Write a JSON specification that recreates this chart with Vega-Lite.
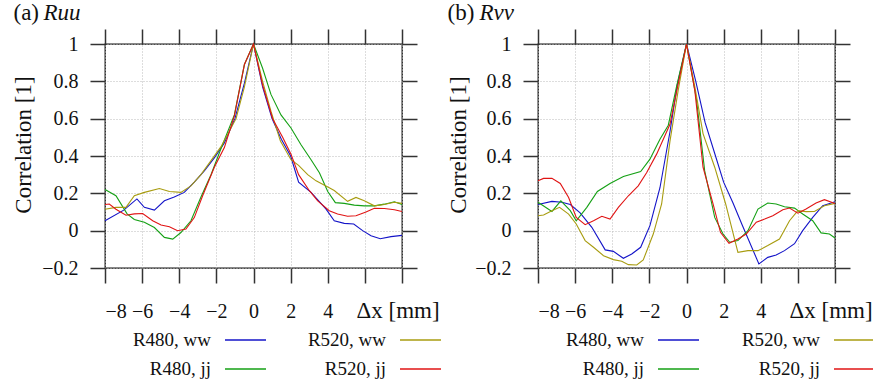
{
  "$schema": "https://vega.github.io/schema/vega-lite/v6.json",
  "padding": {"left": 11, "top": 0, "right": 0, "bottom": 0},
  "bounds": "flush",
  "columns": 2,
  "spacing": {"column": 136, "row": 72},
  "config": {
    "font": "Liberation Serif",
    "view": {"stroke": "#111", "strokeWidth": 1.3}
  },
  "datasets": {
    "legend": [
      {"s": "R480, ww", "inst": "R480", "cond": "ww"},
      {"s": "R520, ww", "inst": "R520", "cond": "ww"},
      {"s": "R480, jj", "inst": "R480", "cond": "jj"},
      {"s": "R520, jj", "inst": "R520", "cond": "jj"}
    ],
    "ruu": [
      {"s":"R480, ww","x":-8,"r":0.053},{"s":"R480, ww","x":-6.99,"r":0.11},{"s":"R480, ww","x":-6.28,"r":0.17},{"s":"R480, ww","x":-5.88,"r":0.125},{"s":"R480, ww","x":-5.34,"r":0.11},{"s":"R480, ww","x":-4.8,"r":0.16},{"s":"R480, ww","x":-4.27,"r":0.18},{"s":"R480, ww","x":-3.73,"r":0.205},{"s":"R480, ww","x":-3.19,"r":0.26},{"s":"R480, ww","x":-2.65,"r":0.32},{"s":"R480, ww","x":-2.11,"r":0.39},{"s":"R480, ww","x":-1.57,"r":0.47},{"s":"R480, ww","x":-1.0,"r":0.6},{"s":"R480, ww","x":-0.49,"r":0.79},{"s":"R480, ww","x":0,"r":1.0},{"s":"R480, ww","x":0.49,"r":0.77},{"s":"R480, ww","x":1.0,"r":0.6},{"s":"R480, ww","x":1.5,"r":0.49},{"s":"R480, ww","x":2.0,"r":0.4},{"s":"R480, ww","x":2.43,"r":0.26},{"s":"R480, ww","x":3.1,"r":0.205},{"s":"R480, ww","x":3.91,"r":0.115},{"s":"R480, ww","x":4.35,"r":0.053},{"s":"R480, ww","x":4.89,"r":0.039},{"s":"R480, ww","x":5.4,"r":0.036},{"s":"R480, ww","x":5.88,"r":0.0},{"s":"R480, ww","x":6.33,"r":-0.027},{"s":"R480, ww","x":6.83,"r":-0.043},{"s":"R480, ww","x":7.41,"r":-0.032},{"s":"R480, ww","x":8,"r":-0.025},
      {"s":"R480, jj","x":-8,"r":0.22},{"s":"R480, jj","x":-7.41,"r":0.187},{"s":"R480, jj","x":-6.81,"r":0.09},{"s":"R480, jj","x":-6.42,"r":0.06},{"s":"R480, jj","x":-5.88,"r":0.045},{"s":"R480, jj","x":-5.34,"r":0.017},{"s":"R480, jj","x":-4.8,"r":-0.036},{"s":"R480, jj","x":-4.35,"r":-0.045},{"s":"R480, jj","x":-3.91,"r":-0.01},{"s":"R480, jj","x":-3.37,"r":0.053},{"s":"R480, jj","x":-2.83,"r":0.18},{"s":"R480, jj","x":-2.29,"r":0.3},{"s":"R480, jj","x":-1.75,"r":0.44},{"s":"R480, jj","x":-1.03,"r":0.62},{"s":"R480, jj","x":-0.49,"r":0.89},{"s":"R480, jj","x":0,"r":1.0},{"s":"R480, jj","x":0.49,"r":0.87},{"s":"R480, jj","x":0.94,"r":0.73},{"s":"R480, jj","x":1.48,"r":0.62},{"s":"R480, jj","x":2.02,"r":0.55},{"s":"R480, jj","x":2.56,"r":0.46},{"s":"R480, jj","x":3.1,"r":0.38},{"s":"R480, jj","x":3.55,"r":0.31},{"s":"R480, jj","x":4.0,"r":0.21},{"s":"R480, jj","x":4.41,"r":0.15},{"s":"R480, jj","x":4.89,"r":0.146},{"s":"R480, jj","x":5.43,"r":0.137},{"s":"R480, jj","x":5.97,"r":0.133},{"s":"R480, jj","x":6.51,"r":0.133},{"s":"R480, jj","x":7.05,"r":0.142},{"s":"R480, jj","x":7.59,"r":0.155},{"s":"R480, jj","x":8,"r":0.14},
      {"s":"R520, ww","x":-8,"r":0.115},{"s":"R520, ww","x":-7.41,"r":0.125},{"s":"R520, ww","x":-6.87,"r":0.125},{"s":"R520, ww","x":-6.42,"r":0.187},{"s":"R520, ww","x":-5.88,"r":0.205},{"s":"R520, ww","x":-5.07,"r":0.226},{"s":"R520, ww","x":-4.53,"r":0.21},{"s":"R520, ww","x":-3.91,"r":0.205},{"s":"R520, ww","x":-3.37,"r":0.24},{"s":"R520, ww","x":-2.83,"r":0.3},{"s":"R520, ww","x":-2.29,"r":0.375},{"s":"R520, ww","x":-1.75,"r":0.45},{"s":"R520, ww","x":-0.94,"r":0.6},{"s":"R520, ww","x":-0.49,"r":0.77},{"s":"R520, ww","x":0,"r":1.0},{"s":"R520, ww","x":0.49,"r":0.8},{"s":"R520, ww","x":0.94,"r":0.64},{"s":"R520, ww","x":1.45,"r":0.48},{"s":"R520, ww","x":2.02,"r":0.38},{"s":"R520, ww","x":2.43,"r":0.35},{"s":"R520, ww","x":2.92,"r":0.3},{"s":"R520, ww","x":3.37,"r":0.267},{"s":"R520, ww","x":4.08,"r":0.23},{"s":"R520, ww","x":4.35,"r":0.215},{"s":"R520, ww","x":5.07,"r":0.157},{"s":"R520, ww","x":5.52,"r":0.178},{"s":"R520, ww","x":5.97,"r":0.16},{"s":"R520, ww","x":6.51,"r":0.133},{"s":"R520, ww","x":7.05,"r":0.14},{"s":"R520, ww","x":7.59,"r":0.152},{"s":"R520, ww","x":8,"r":0.146},
      {"s":"R520, jj","x":-8,"r":0.14},{"s":"R520, jj","x":-7.77,"r":0.143},{"s":"R520, jj","x":-7.41,"r":0.115},{"s":"R520, jj","x":-6.87,"r":0.083},{"s":"R520, jj","x":-6.42,"r":0.09},{"s":"R520, jj","x":-5.97,"r":0.092},{"s":"R520, jj","x":-5.43,"r":0.053},{"s":"R520, jj","x":-4.98,"r":0.03},{"s":"R520, jj","x":-4.53,"r":0.021},{"s":"R520, jj","x":-4.09,"r":0.0},{"s":"R520, jj","x":-3.64,"r":0.009},{"s":"R520, jj","x":-3.19,"r":0.07},{"s":"R520, jj","x":-2.74,"r":0.187},{"s":"R520, jj","x":-2.11,"r":0.34},{"s":"R520, jj","x":-1.57,"r":0.445},{"s":"R520, jj","x":-1.03,"r":0.615},{"s":"R520, jj","x":-0.49,"r":0.89},{"s":"R520, jj","x":0,"r":1.0},{"s":"R520, jj","x":0.49,"r":0.78},{"s":"R520, jj","x":1.03,"r":0.6},{"s":"R520, jj","x":1.57,"r":0.5},{"s":"R520, jj","x":2.02,"r":0.41},{"s":"R520, jj","x":2.43,"r":0.3},{"s":"R520, jj","x":3.01,"r":0.214},{"s":"R520, jj","x":3.46,"r":0.16},{"s":"R520, jj","x":4.08,"r":0.107},{"s":"R520, jj","x":4.53,"r":0.089},{"s":"R520, jj","x":5.07,"r":0.077},{"s":"R520, jj","x":5.52,"r":0.08},{"s":"R520, jj","x":6.06,"r":0.1},{"s":"R520, jj","x":6.51,"r":0.12},{"s":"R520, jj","x":7.05,"r":0.119},{"s":"R520, jj","x":7.59,"r":0.112},{"s":"R520, jj","x":8,"r":0.103}
    ],
    "rvv": [
      {"s":"R480, ww","x":-8,"r":0.14},{"s":"R480, ww","x":-7.25,"r":0.157},{"s":"R480, ww","x":-6.71,"r":0.152},{"s":"R480, ww","x":-6.26,"r":0.14},{"s":"R480, ww","x":-5.73,"r":0.095},{"s":"R480, ww","x":-5.1,"r":0.018},{"s":"R480, ww","x":-4.38,"r":-0.103},{"s":"R480, ww","x":-3.94,"r":-0.111},{"s":"R480, ww","x":-3.4,"r":-0.148},{"s":"R480, ww","x":-2.95,"r":-0.125},{"s":"R480, ww","x":-2.47,"r":-0.089},{"s":"R480, ww","x":-1.97,"r":0.027},{"s":"R480, ww","x":-1.43,"r":0.23},{"s":"R480, ww","x":-0.89,"r":0.53},{"s":"R480, ww","x":-0.5,"r":0.78},{"s":"R480, ww","x":0,"r":1.0},{"s":"R480, ww","x":0.5,"r":0.8},{"s":"R480, ww","x":1.0,"r":0.58},{"s":"R480, ww","x":1.5,"r":0.42},{"s":"R480, ww","x":2.0,"r":0.26},{"s":"R480, ww","x":2.5,"r":0.15},{"s":"R480, ww","x":3.0,"r":0.03},{"s":"R480, ww","x":3.9,"r":-0.178},{"s":"R480, ww","x":4.38,"r":-0.143},{"s":"R480, ww","x":4.83,"r":-0.13},{"s":"R480, ww","x":5.28,"r":-0.107},{"s":"R480, ww","x":5.82,"r":-0.07},{"s":"R480, ww","x":6.26,"r":0.0},{"s":"R480, ww","x":6.8,"r":0.071},{"s":"R480, ww","x":7.34,"r":0.134},{"s":"R480, ww","x":8,"r":0.155},
      {"s":"R480, jj","x":-8,"r":0.152},{"s":"R480, jj","x":-7.25,"r":0.103},{"s":"R480, jj","x":-6.77,"r":0.16},{"s":"R480, jj","x":-6.26,"r":0.107},{"s":"R480, jj","x":-5.94,"r":0.053},{"s":"R480, jj","x":-5.37,"r":0.125},{"s":"R480, jj","x":-4.8,"r":0.21},{"s":"R480, jj","x":-4.12,"r":0.253},{"s":"R480, jj","x":-3.4,"r":0.29},{"s":"R480, jj","x":-2.47,"r":0.317},{"s":"R480, jj","x":-1.97,"r":0.383},{"s":"R480, jj","x":-1.43,"r":0.49},{"s":"R480, jj","x":-0.98,"r":0.565},{"s":"R480, jj","x":-0.54,"r":0.77},{"s":"R480, jj","x":0,"r":1.0},{"s":"R480, jj","x":0.54,"r":0.7},{"s":"R480, jj","x":0.98,"r":0.32},{"s":"R480, jj","x":1.52,"r":0.071},{"s":"R480, jj","x":1.97,"r":-0.018},{"s":"R480, jj","x":2.33,"r":-0.062},{"s":"R480, jj","x":2.77,"r":-0.053},{"s":"R480, jj","x":3.31,"r":0.0},{"s":"R480, jj","x":3.85,"r":0.116},{"s":"R480, jj","x":4.38,"r":0.148},{"s":"R480, jj","x":4.83,"r":0.143},{"s":"R480, jj","x":5.28,"r":0.128},{"s":"R480, jj","x":5.82,"r":0.121},{"s":"R480, jj","x":6.26,"r":0.089},{"s":"R480, jj","x":6.8,"r":0.053},{"s":"R480, jj","x":7.25,"r":-0.012},{"s":"R480, jj","x":7.7,"r":-0.018},{"s":"R480, jj","x":8,"r":-0.039},
      {"s":"R520, ww","x":-8,"r":0.08},{"s":"R520, ww","x":-7.7,"r":0.084},{"s":"R520, ww","x":-7.25,"r":0.107},{"s":"R520, ww","x":-6.84,"r":0.125},{"s":"R520, ww","x":-6.35,"r":0.089},{"s":"R520, ww","x":-5.94,"r":0.036},{"s":"R520, ww","x":-5.46,"r":-0.053},{"s":"R520, ww","x":-5.01,"r":-0.089},{"s":"R520, ww","x":-4.47,"r":-0.134},{"s":"R520, ww","x":-3.94,"r":-0.155},{"s":"R520, ww","x":-3.49,"r":-0.164},{"s":"R520, ww","x":-3.13,"r":-0.182},{"s":"R520, ww","x":-2.68,"r":-0.184},{"s":"R520, ww","x":-2.33,"r":-0.157},{"s":"R520, ww","x":-1.79,"r":-0.018},{"s":"R520, ww","x":-1.34,"r":0.143},{"s":"R520, ww","x":-0.89,"r":0.48},{"s":"R520, ww","x":-0.45,"r":0.75},{"s":"R520, ww","x":0,"r":1.0},{"s":"R520, ww","x":0.45,"r":0.77},{"s":"R520, ww","x":0.89,"r":0.52},{"s":"R520, ww","x":1.52,"r":0.34},{"s":"R520, ww","x":2.11,"r":0.143},{"s":"R520, ww","x":2.77,"r":-0.116},{"s":"R520, ww","x":3.31,"r":-0.107},{"s":"R520, ww","x":3.85,"r":-0.107},{"s":"R520, ww","x":4.38,"r":-0.08},{"s":"R520, ww","x":5.01,"r":-0.045},{"s":"R520, ww","x":5.55,"r":0.053},{"s":"R520, ww","x":6.0,"r":0.107},{"s":"R520, ww","x":6.44,"r":0.102},{"s":"R520, ww","x":6.89,"r":0.103},{"s":"R520, ww","x":7.43,"r":0.134},{"s":"R520, ww","x":8,"r":0.146},
      {"s":"R520, jj","x":-8,"r":0.267},{"s":"R520, jj","x":-7.7,"r":0.28},{"s":"R520, jj","x":-7.25,"r":0.28},{"s":"R520, jj","x":-6.8,"r":0.253},{"s":"R520, jj","x":-6.35,"r":0.178},{"s":"R520, jj","x":-5.94,"r":0.071},{"s":"R520, jj","x":-5.46,"r":0.032},{"s":"R520, jj","x":-5.01,"r":0.053},{"s":"R520, jj","x":-4.56,"r":0.077},{"s":"R520, jj","x":-4.12,"r":0.062},{"s":"R520, jj","x":-3.67,"r":0.125},{"s":"R520, jj","x":-3.13,"r":0.187},{"s":"R520, jj","x":-2.6,"r":0.24},{"s":"R520, jj","x":-2.15,"r":0.31},{"s":"R520, jj","x":-1.61,"r":0.41},{"s":"R520, jj","x":-0.89,"r":0.57},{"s":"R520, jj","x":-0.45,"r":0.785},{"s":"R520, jj","x":0,"r":1.0},{"s":"R520, jj","x":0.45,"r":0.75},{"s":"R520, jj","x":0.89,"r":0.34},{"s":"R520, jj","x":1.43,"r":0.143},{"s":"R520, jj","x":1.83,"r":-0.009},{"s":"R520, jj","x":2.29,"r":-0.068},{"s":"R520, jj","x":2.77,"r":-0.045},{"s":"R520, jj","x":3.22,"r":-0.018},{"s":"R520, jj","x":3.76,"r":0.045},{"s":"R520, jj","x":4.21,"r":0.062},{"s":"R520, jj","x":4.65,"r":0.08},{"s":"R520, jj","x":5.19,"r":0.112},{"s":"R520, jj","x":5.55,"r":0.121},{"s":"R520, jj","x":6.0,"r":0.094},{"s":"R520, jj","x":6.44,"r":0.116},{"s":"R520, jj","x":6.98,"r":0.148},{"s":"R520, jj","x":7.43,"r":0.166},{"s":"R520, jj","x":8,"r":0.146}
    ]
  },
  "concat": [
    {
      "width": 297, "height": 224,
      "data": {"name": "ruu"},
      "resolve": {"axis": {"x": "independent", "y": "independent"}},
      "layer": [
        {
          "mark": {"type": "line", "strokeOpacity": 0},
          "encoding": {
            "x": {"field": "x", "type": "quantitative", "scale": {"domain": [-8, 8], "nice": false, "zero": false},
              "axis": {"orient": "top", "values": [-8,-6,-4,-2,0,2,4,6,8], "domain": false, "grid": true, "gridColor": "#bbb", "gridDash": [1, 2], "gridWidth": 1, "labels": false, "ticks": true, "tickSize": 15, "tickColor": "#333", "tickWidth": 1.5,
                "title": "(a)", "titleFont": "Liberation Serif", "titleFontSize": 23, "titleFontWeight": "normal", "titleColor": "#111", "titleX": -92, "titleY": -24.5, "titleAlign": "left", "titleBaseline": "alphabetic", "titleAngle": 0}},
            "y": {"field": "r", "type": "quantitative", "scale": {"domain": [-0.2, 1], "nice": false, "zero": false},
              "axis": {"orient": "right", "values": [-0.2,0,0.2,0.4,0.6,0.8,1], "domain": false, "grid": true, "gridColor": "#bbb", "gridDash": [1, 2], "gridWidth": 1, "labels": false, "ticks": true, "tickSize": 15, "tickColor": "#333", "tickWidth": 1.5,
                "title": "Ruu", "titleFont": "Liberation Serif", "titleFontSize": 23, "titleFontWeight": "normal", "titleColor": "#111", "titleFontStyle": "italic", "titleX": -359, "titleY": -24.5, "titleAlign": "left", "titleBaseline": "alphabetic", "titleAngle": 0}},
            "detail": {"field": "s", "type": "nominal"}
          }
        },
        {
          "mark": {"type": "line", "strokeWidth": 1.1},
          "encoding": {
            "x": {"field": "x", "type": "quantitative",
              "axis": {"orient": "bottom", "values": [-8,-6,-4,-2,0,2,4,6,8], "domain": false, "grid": false, "ticks": true, "tickSize": 15, "tickColor": "#333", "tickWidth": 1.5,
                "labelFont": "Liberation Serif", "labelFontSize": 20, "labelColor": "#111", "labelExpr": "datum.value > 5 ? '' : datum.label", "labelBaseline": "alphabetic", "labelPadding": 34,
                "title": "Δx [mm]", "titleFont": "Liberation Serif", "titleFontSize": 23, "titleFontWeight": "normal", "titleColor": "#111", "titleX": 251, "titleY": 49.5, "titleAlign": "left", "titleBaseline": "alphabetic", "titleAngle": 0}},
            "y": {"field": "r", "type": "quantitative",
              "axis": {"orient": "left", "values": [-0.2,0,0.2,0.4,0.6,0.8,1], "domain": false, "grid": false, "ticks": true, "tickSize": 15, "tickColor": "#333", "tickWidth": 1.5,
                "labelFont": "Liberation Serif", "labelFontSize": 20, "labelColor": "#111", "format": "~g", "labelPadding": 12,
                "title": "Correlation [1]", "titleFont": "Liberation Serif", "titleFontSize": 23, "titleFontWeight": "normal", "titleColor": "#111", "titleX": -82, "titleY": 100.5, "titleAlign": "center", "titleBaseline": "middle", "titleAngle": -90}},
            "color": {"field": "s", "type": "nominal", "scale": {"domain": ["R480, ww","R480, jj","R520, ww","R520, jj"], "range": ["#1414c8","#14a014","#a89c10","#e01414"]}, "legend": null},
            "order": {"field": "x", "type": "quantitative"}
          }
        }
      ]
    },
    {
      "width": 297, "height": 224,
      "data": {"name": "rvv"},
      "resolve": {"axis": {"x": "independent", "y": "independent"}},
      "layer": [
        {
          "mark": {"type": "line", "strokeOpacity": 0},
          "encoding": {
            "x": {"field": "x", "type": "quantitative", "scale": {"domain": [-8, 8], "nice": false, "zero": false},
              "axis": {"orient": "top", "values": [-8,-6,-4,-2,0,2,4,6,8], "domain": false, "grid": true, "gridColor": "#bbb", "gridDash": [1, 2], "gridWidth": 1, "labels": false, "ticks": true, "tickSize": 15, "tickColor": "#333", "tickWidth": 1.5,
                "title": "(b)", "titleFont": "Liberation Serif", "titleFontSize": 23, "titleFontWeight": "normal", "titleColor": "#111", "titleX": -91, "titleY": -24.5, "titleAlign": "left", "titleBaseline": "alphabetic", "titleAngle": 0}},
            "y": {"field": "r", "type": "quantitative", "scale": {"domain": [-0.2, 1], "nice": false, "zero": false},
              "axis": {"orient": "right", "values": [-0.2,0,0.2,0.4,0.6,0.8,1], "domain": false, "grid": true, "gridColor": "#bbb", "gridDash": [1, 2], "gridWidth": 1, "labels": false, "ticks": true, "tickSize": 15, "tickColor": "#333", "tickWidth": 1.5,
                "title": "Rvv", "titleFont": "Liberation Serif", "titleFontSize": 23, "titleFontWeight": "normal", "titleColor": "#111", "titleFontStyle": "italic", "titleX": -356, "titleY": -24.5, "titleAlign": "left", "titleBaseline": "alphabetic", "titleAngle": 0}},
            "detail": {"field": "s", "type": "nominal"}
          }
        },
        {
          "mark": {"type": "line", "strokeWidth": 1.1},
          "encoding": {
            "x": {"field": "x", "type": "quantitative",
              "axis": {"orient": "bottom", "values": [-8,-6,-4,-2,0,2,4,6,8], "domain": false, "grid": false, "ticks": true, "tickSize": 15, "tickColor": "#333", "tickWidth": 1.5,
                "labelFont": "Liberation Serif", "labelFontSize": 20, "labelColor": "#111", "labelExpr": "datum.value > 5 ? '' : datum.label", "labelBaseline": "alphabetic", "labelPadding": 34,
                "title": "Δx [mm]", "titleFont": "Liberation Serif", "titleFontSize": 23, "titleFontWeight": "normal", "titleColor": "#111", "titleX": 251, "titleY": 49.5, "titleAlign": "left", "titleBaseline": "alphabetic", "titleAngle": 0}},
            "y": {"field": "r", "type": "quantitative",
              "axis": {"orient": "left", "values": [-0.2,0,0.2,0.4,0.6,0.8,1], "domain": false, "grid": false, "ticks": true, "tickSize": 15, "tickColor": "#333", "tickWidth": 1.5,
                "labelFont": "Liberation Serif", "labelFontSize": 20, "labelColor": "#111", "format": "~g", "labelPadding": 12,
                "title": "Correlation [1]", "titleFont": "Liberation Serif", "titleFontSize": 23, "titleFontWeight": "normal", "titleColor": "#111", "titleX": -80, "titleY": 100.5, "titleAlign": "center", "titleBaseline": "middle", "titleAngle": -90}},
            "color": {"field": "s", "type": "nominal", "scale": {"domain": ["R480, ww","R480, jj","R520, ww","R520, jj"], "range": ["#1414c8","#14a014","#a89c10","#e01414"]}, "legend": null},
            "order": {"field": "x", "type": "quantitative"}
          }
        }
      ]
    },
    {
      "width": 297, "height": 29,
      "view": {"stroke": null},
      "data": {"name": "legend"},
      "encoding": {
        "x": {"field": "inst", "type": "nominal", "scale": {"type": "point", "domain": ["R480", "R520"], "range": [120, 295], "padding": 0}, "axis": null},
        "y": {"field": "cond", "type": "nominal", "scale": {"type": "point", "domain": ["ww", "jj"], "range": [0, 29], "padding": 0}, "axis": null}
      },
      "layer": [
        {"mark": {"type": "text", "align": "right", "baseline": "middle", "dx": -14, "fontSize": 19, "font": "Liberation Serif", "color": "#111"},
         "encoding": {"text": {"field": "s"}}},
        {"mark": {"type": "rule", "x2Offset": 41, "strokeWidth": 1.5},
         "encoding": {"x2": {"field": "inst"}, "color": {"field": "s", "type": "nominal", "legend": null}}}
      ]
    },
    {
      "width": 297, "height": 29,
      "view": {"stroke": null},
      "data": {"name": "legend"},
      "encoding": {
        "x": {"field": "inst", "type": "nominal", "scale": {"type": "point", "domain": ["R480", "R520"], "range": [120, 296], "padding": 0}, "axis": null},
        "y": {"field": "cond", "type": "nominal", "scale": {"type": "point", "domain": ["ww", "jj"], "range": [0, 29], "padding": 0}, "axis": null}
      },
      "layer": [
        {"mark": {"type": "text", "align": "right", "baseline": "middle", "dx": -14, "fontSize": 19, "font": "Liberation Serif", "color": "#111"},
         "encoding": {"text": {"field": "s"}}},
        {"mark": {"type": "rule", "x2Offset": 41, "strokeWidth": 1.5},
         "encoding": {"x2": {"field": "inst"}, "color": {"field": "s", "type": "nominal", "legend": null}}}
      ]
    }
  ]
}
